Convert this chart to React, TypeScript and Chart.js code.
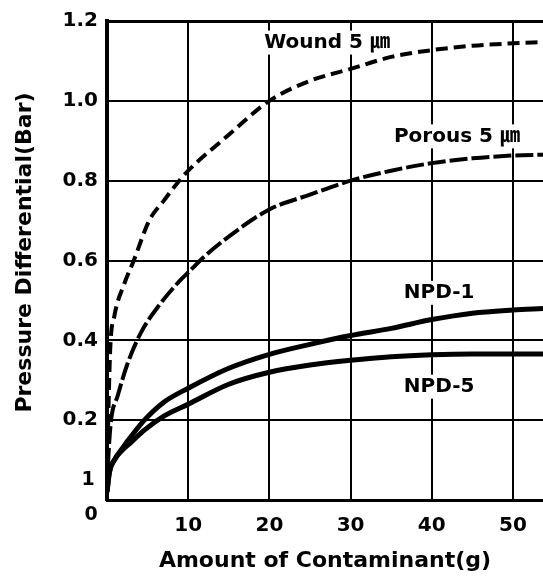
import React, { useEffect, useRef } from "react";
import { Chart, registerables } from "chart.js";

Chart.register(...registerables);

// ---- data ----
const woundX = [0, 0.15, 0.4, 0.9, 2.1, 3.3, 5.2, 7, 8.9, 10, 15, 20, 25, 30, 35, 40, 45, 50, 53.7];
const woundY = [0.05, 0.2, 0.38, 0.46, 0.54, 0.6, 0.7, 0.75, 0.8, 0.825, 0.915, 1.0, 1.05, 1.08, 1.11, 1.127, 1.138, 1.144, 1.147];

const porousX = [0, 0.2, 0.5, 1.3, 2.5, 4.2, 6.5, 9, 10, 12, 15, 20, 25, 30, 35, 40, 45, 50, 53.7];
const porousY = [0.03, 0.12, 0.2, 0.26, 0.34, 0.42, 0.49, 0.55, 0.57, 0.61, 0.66, 0.728, 0.765, 0.8, 0.825, 0.844, 0.856, 0.863, 0.865];

const npd1X = [0, 0.3, 0.9, 1.9, 3, 4.6, 7, 10, 15, 20, 25, 30, 35, 40, 45, 50, 53.7];
const npd1Y = [0.02, 0.07, 0.1, 0.13, 0.16, 0.2, 0.245, 0.28, 0.33, 0.365, 0.39, 0.412, 0.43, 0.452, 0.468, 0.476, 0.48];

const npd5X = [0, 0.3, 0.9, 1.9, 3, 4.6, 7, 10, 15, 20, 25, 30, 35, 40, 45, 50, 53.7];
const npd5Y = [0.02, 0.07, 0.1, 0.125, 0.145, 0.175, 0.21, 0.24, 0.29, 0.32, 0.338, 0.35, 0.359, 0.364, 0.366, 0.366, 0.366];

const seriesNames = ["Wound 5 ㎛", "Porous 5 ㎛", "NPD-1", "NPD-5"];
const xTickValues = [10, 20, 30, 40, 50];
const yTickValues = [0, 0.2, 0.4, 0.6, 0.8, 1.0, 1.2];
const xTitle = "Amount of Contaminant(g)";
const yTitle = "Pressure Differential(Bar)";
const cornerLabels = ["1", "0"];

// label anchors in data coordinates
const labelAnchorX = [27.1, 43.1, 40.9, 40.9];
const labelAnchorY = [1.146, 0.911, 0.519, 0.284];

const FONT = "'DejaVu Sans', 'Noto Sans CJK KR', sans-serif";

const toPts = (xs: number[], ys: number[]) => xs.map((x, i) => ({ x, y: ys[i] }));

const labelPlugin = {
  id: "curveLabels",
  beforeDatasetsDraw(chart: any) {
    const { ctx, scales, chartArea } = chart;
    const xs = scales.x;
    const ys = scales.y;
    ctx.save();
    ctx.font = `bold 20px ${FONT}`;
    ctx.textAlign = "center";
    ctx.textBaseline = "middle";
    seriesNames.forEach((name, i) => {
      const cx = xs.getPixelForValue(labelAnchorX[i]);
      const cy = ys.getPixelForValue(labelAnchorY[i]);
      const w = ctx.measureText(name).width;
      ctx.fillStyle = "#fff";
      ctx.fillRect(cx - w / 2 - 4, cy - 12, w + 8, 24);
      ctx.fillStyle = "#000";
      ctx.fillText(name, cx, cy);
    });
    // odd labels near origin
    ctx.font = `bold 19px ${FONT}`;
    ctx.fillText(cornerLabels[0], chartArea.left - 19, ys.getPixelForValue(0.05));
    ctx.fillText(cornerLabels[1], chartArea.left - 16, ys.getPixelForValue(0) + 15);
    // y axis title
    ctx.font = `bold 22px ${FONT}`;
    ctx.translate(chartArea.left - 82, ys.getPixelForValue(0.62));
    ctx.rotate(-Math.PI / 2);
    ctx.fillText(yTitle, 0, 0);
    ctx.restore();
  },
};

export default function App() {
  const ref = useRef<HTMLCanvasElement | null>(null);
  useEffect(() => {
    if (!ref.current) return;
    const chart = new Chart(ref.current, {
      type: "line",
      data: {
        datasets: [
          {
            label: seriesNames[0],
            data: toPts(woundX, woundY),
            borderColor: "#000",
            borderWidth: 4,
            borderDash: [12, 6],
            pointRadius: 0,
            cubicInterpolationMode: "monotone",
          },
          {
            label: seriesNames[1],
            data: toPts(porousX, porousY),
            borderColor: "#000",
            borderWidth: 4,
            borderDash: [18, 4],
            pointRadius: 0,
            cubicInterpolationMode: "monotone",
          },
          {
            label: seriesNames[2],
            data: toPts(npd1X, npd1Y),
            borderColor: "#000",
            borderWidth: 5,
            pointRadius: 0,
            cubicInterpolationMode: "monotone",
          },
          {
            label: seriesNames[3],
            data: toPts(npd5X, npd5Y),
            borderColor: "#000",
            borderWidth: 5,
            pointRadius: 0,
            cubicInterpolationMode: "monotone",
          },
        ],
      },
      options: {
        responsive: false,
        animation: false,
        events: [],
        layout: { padding: { top: 15, right: 0, left: 0, bottom: 0 } },
        plugins: { legend: { display: false }, tooltip: { enabled: false } },
        scales: {
          x: {
            type: "linear",
            min: 0,
            max: 53.7,
            afterBuildTicks: (s: any) => {
              s.ticks = [0, ...xTickValues].map((v) => ({ value: v }));
            },
            afterFit: (s: any) => {
              s.height = 76;
            },
            grid: { color: "#000", lineWidth: 2, drawTicks: false },
            border: { color: "#000", width: 3 },
            ticks: {
              color: "#000",
              padding: 14,
              font: { family: FONT, size: 20, weight: "bold" },
              callback: (v: any) => (v === 0 ? "" : String(v)),
            },
            title: {
              display: true,
              text: xTitle,
              color: "#000",
              font: { family: FONT, size: 22, weight: "bold" },
              padding: { top: 0, bottom: 2 },
            },
          },
          y: {
            type: "linear",
            min: 0,
            max: 1.2,
            afterBuildTicks: (s: any) => {
              s.ticks = yTickValues.map((v) => ({ value: v }));
            },
            afterFit: (s: any) => {
              s.width = 107;
            },
            grid: {
              color: "#000",
              drawTicks: false,
              lineWidth: (c: any) => (c.tick && Math.abs(c.tick.value - 1.2) < 1e-6 ? 3 : 2),
            },
            border: { color: "#000", width: 4 },
            ticks: {
              color: "#000",
              padding: 9,
              font: { family: FONT, size: 20, weight: "bold" },
              callback: (v: any) => (Math.abs(v) < 1e-9 ? "" : Number(v).toFixed(1)),
            },
            title: { display: false },
          },
        },
      },
      plugins: [labelPlugin],
    } as any);
    return () => chart.destroy();
  }, []);
  return (
    <div style={{ position: "absolute", left: 0, top: 0, width: 543, height: 576, background: "#fff" }}>
      <canvas ref={ref} width={543} height={576} style={{ display: "block" }} />
    </div>
  );
}
